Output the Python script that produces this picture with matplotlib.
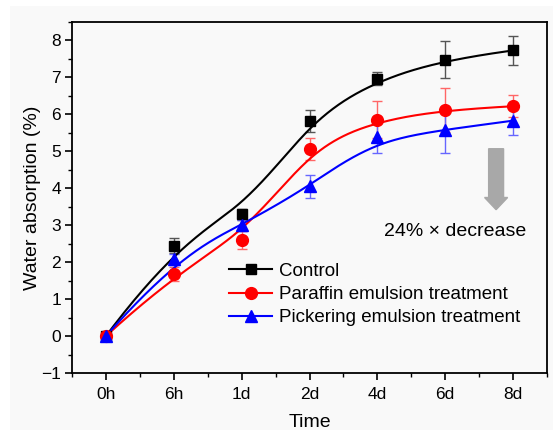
import numpy as np
import matplotlib
matplotlib.use("Agg")
import matplotlib.pyplot as plt
from matplotlib.patches import FancyArrow, Rectangle
from matplotlib.ticker import MultipleLocator

plt.rcParams['font.family'] = ['Liberation Sans', 'DejaVu Sans']

time_labels = ["0h", "6h", "1d", "2d", "4d", "6d", "8d"]
control = [0.0, 2.45, 3.3, 5.83, 6.97, 7.48, 7.73]
control_err = [0.05, 0.2, 0.15, 0.3, 0.17, 0.5, 0.4]
paraffin = [0.0, 1.68, 2.6, 5.07, 5.86, 6.12, 6.22]
paraffin_err = [0.05, 0.2, 0.25, 0.3, 0.5, 0.6, 0.3]
pickering = [0.0, 2.08, 3.0, 4.05, 5.38, 5.58, 5.83]
pickering_err = [0.05, 0.15, 0.15, 0.3, 0.42, 0.62, 0.4]
annotation_text = "24% × decrease"


def bspline(px, py, npts=300):
    px = np.asarray(px, float)
    py = np.asarray(py, float)
    n = len(px)
    k = 3
    inner = np.arange(1, n - k)
    knots = np.concatenate([np.zeros(k + 1), inner, np.full(k + 1, n - k)]).astype(float)
    t = np.linspace(0, n - k, npts)
    t[-1] -= 1e-9
    B = np.zeros((npts, len(knots) - 1))
    for i in range(len(knots) - 1):
        B[:, i] = ((t >= knots[i]) & (t < knots[i + 1])).astype(float)
    for d in range(1, k + 1):
        Bn = np.zeros((npts, len(knots) - 1 - d))
        for i in range(len(knots) - 1 - d):
            a = 0.0
            den1 = knots[i + d] - knots[i]
            if den1 > 0:
                a = (t - knots[i]) / den1 * B[:, i]
            b = 0.0
            den2 = knots[i + d + 1] - knots[i + 1]
            if den2 > 0:
                b = (knots[i + d + 1] - t) / den2 * B[:, i + 1]
            Bn[:, i] = a + b
        B = Bn
    return B @ px, B @ py


fig = plt.figure(figsize=(5.53, 4.30), dpi=100, facecolor='white')
fig.patches.append(Rectangle((10 / 553, 0), 1, 1 - 6 / 430, transform=fig.transFigure,
                             facecolor='#f9f9f9', edgecolor='none', zorder=-10))
ax = fig.add_axes([72 / 553, (430 - 373) / 430, (547 - 72) / 553, (373 - 22) / 430])
ax.set_facecolor('#f9f9f9')

x = np.arange(len(time_labels))
series = [
    ("Control", control, control_err, 'black', 's', 7.5, '#555555'),
    ("Paraffin emulsion treatment", paraffin, paraffin_err, 'red', 'o', 8.5, '#ff6666'),
    ("Pickering emulsion treatment", pickering, pickering_err, 'blue', '^', 9, '#6666ff'),
]
for name, y, err, col, mk, ms, ecol in series:
    ax.errorbar(x, y, yerr=err, fmt='none', ecolor=ecol, elinewidth=1.0,
                capsize=3.5, capthick=1.0, zorder=2)
    sx, sy = bspline(x, y)
    ax.plot(sx, sy, color=col, lw=1.5, zorder=3)
    ax.plot(x, y, linestyle='none', marker=mk, ms=ms, color=col, zorder=4)
    ax.plot([], [], color=col, lw=1.5, marker=mk, ms=ms, label=name)

ax.set_xlim(-0.5, 6.5)
ax.set_ylim(-1, 8.5)
ax.set_xticks(x)
ax.set_xticklabels(time_labels)
ax.xaxis.set_minor_locator(MultipleLocator(0.5))
ax.yaxis.set_major_locator(MultipleLocator(1))
ax.yaxis.set_minor_locator(MultipleLocator(0.5))
ax.tick_params(axis='both', which='major', direction='out', length=5, width=1.2,
               labelsize=12.5, top=False, right=False)
ax.tick_params(axis='both', which='minor', direction='out', length=3, width=1.0,
               top=False, right=False)
ax.tick_params(axis='x', pad=5)
ax.tick_params(axis='y', pad=3)
for s in ax.spines.values():
    s.set_linewidth(1.3)

ax.set_xlabel("Time", fontsize=14, labelpad=9)
ax.set_ylabel("Water absorption (%)", fontsize=14, labelpad=0)

ax.add_patch(FancyArrow(5.75, 5.07, 0, -1.65, width=0.22, head_width=0.34,
                        head_length=0.33, length_includes_head=True,
                        color='#a8a8a8', zorder=1))
ax.text(6.19, 2.84, annotation_text, fontsize=14, ha='right', va='center')

ax.legend(loc='upper left', bbox_to_anchor=(0.315, 0.335), frameon=False, fontsize=13.5,
          handlelength=2.3, handletextpad=0.35, labelspacing=0.32, borderaxespad=0)

fig.savefig("out.png", dpi=100, facecolor=fig.get_facecolor())
